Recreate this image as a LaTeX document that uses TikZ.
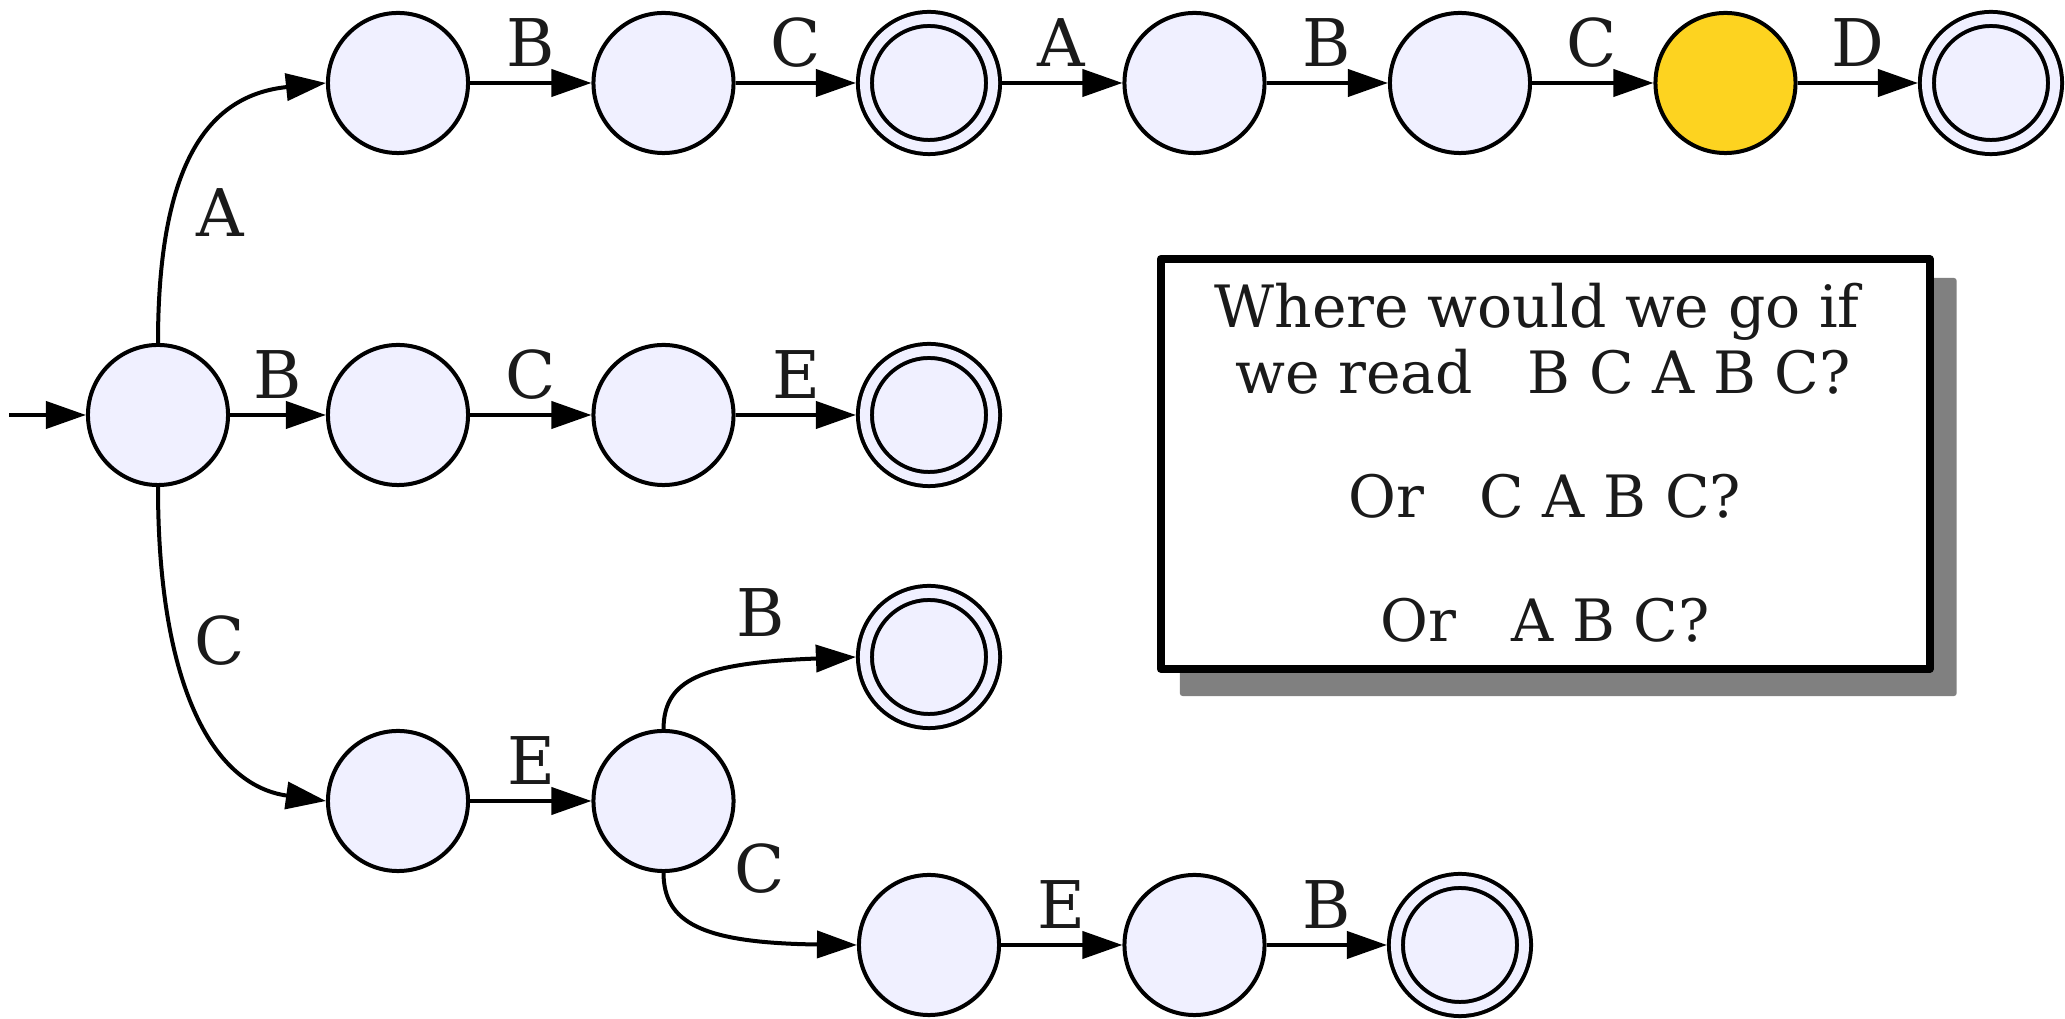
\documentclass[tikz,border=0pt]{standalone}
\usepackage{fontspec}
\setmainfont{DejaVu Serif}
\usetikzlibrary{arrows.meta,backgrounds,calc}
\definecolor{statefill}{RGB}{240,240,255}
\definecolor{hotfill}{RGB}{253,211,32}
\definecolor{shadowgray}{RGB}{128,128,128}
\definecolor{ink}{RGB}{26,26,26}
\begin{document}
\begin{tikzpicture}[x=0.01cm,y=-0.01cm,
  state/.style={circle, draw=black, fill=statefill, line width=0.04cm,
    minimum size=1.4cm, inner sep=0pt},
  accept/.style={state, minimum size=1.28cm, double=statefill,
    double distance=0.1cm, outer sep=0.09cm},
  hot/.style={state, fill=hotfill},
  edge/.style={draw=black, line width=0.04cm,
    -{Triangle[length=0.4cm,width=0.27cm]}},
  lbl/.style={anchor=base, text=ink, inner sep=0pt,
    font=\fontsize{18.7}{22}\selectfont},
  qbox/.style={draw=black, fill=white, line width=0.077cm, line join=round,
    minimum width=7.685cm, minimum height=4.1cm, inner sep=0pt, outer sep=0pt},
  qline/.style={anchor=base, text=ink, inner sep=0pt,
    font=\fontsize{16.6}{20}\selectfont},
]
\useasboundingbox (0,0) rectangle (2065,1019);

% states
\node[state]  (s0) at (158,415) {};
\node[state]  (a1) at (398,83) {};
\node[state]  (a2) at (663.5,83) {};
\node[accept] (a3) at (929,83) {};
\node[state]  (a4) at (1194.5,83) {};
\node[state]  (a5) at (1460,83) {};
\node[hot]    (a6) at (1725.5,83) {};
\node[accept] (a7) at (1991,83) {};
\node[state]  (b1) at (398,415) {};
\node[state]  (b2) at (663.5,415) {};
\node[accept] (b3) at (929,415) {};
\node[state]  (c1) at (398,801) {};
\node[state]  (c2) at (663.5,801) {};
\node[accept] (cb) at (929,657) {};
\node[state]  (d1) at (929,945) {};
\node[state]  (d2) at (1194.5,945) {};
\node[accept] (d3) at (1460,945) {};

% transitions
\coordinate (init) at (9,415);
\draw[edge] (init) -- (s0);
\draw[edge] (s0.north) .. controls (158,160) and (210,95) .. (a1.west);
\draw[edge] (a1) -- (a2);
\draw[edge] (a2) -- (a3);
\draw[edge] (a3) -- (a4);
\draw[edge] (a4) -- (a5);
\draw[edge] (a5) -- (a6);
\draw[edge] (a6) -- (a7);
\draw[edge] (s0) -- (b1);
\draw[edge] (b1) -- (b2);
\draw[edge] (b2) -- (b3);
\draw[edge] (s0.south) .. controls (158,680) and (210,785) .. (c1.west);
\draw[edge] (c1) -- (c2);
\draw[edge] (c2.north) .. controls (664,680) and (700,663) .. (cb.west);
\draw[edge] (c2.south) .. controls (664,922) and (700,943) .. (d1.west);
\draw[edge] (d1) -- (d2);
\draw[edge] (d2) -- (d3);

% transition labels
\node[lbl] (la1) at (220,237) {A};
\node[lbl] (la2) at (531,67) {B};
\node[lbl] (la3) at (796,67) {C};
\node[lbl] (la4) at (1061,67) {A};
\node[lbl] (la5) at (1327,67) {B};
\node[lbl] (la6) at (1592,67) {C};
\node[lbl] (la7) at (1858,67) {D};
\node[lbl] (lb1) at (278,399) {B};
\node[lbl] (lb2) at (531,399) {C};
\node[lbl] (lb3) at (796,399) {E};
\node[lbl] (lc1) at (220,665) {C};
\node[lbl] (lc2) at (531,785) {E};
\node[lbl] (lcb) at (761,637) {B};
\node[lbl] (lcd) at (760,893) {C};
\node[lbl] (ld2) at (1061,929) {E};
\node[lbl] (ld3) at (1327,929) {B};

% question box with its shadow
\node[qbox] (q) at (1545.25,464) {};
\begin{scope}[on background layer]
  \fill[shadowgray, rounded corners=0.03cm]
    ($(q.north west)+(19,19)$) rectangle ($(q.south east)+(27,27)$);
\end{scope}
\node[qline] (q1) at (1537,328) {Where would we go if};
\node[qline] (q2) at (1543,394) {we read\hspace{0.55cm}B C A B C?};
\node[qline] (q3) at (1545,518) {Or\hspace{0.55cm}C A B C?};
\node[qline] (q4) at (1545,642) {Or\hspace{0.55cm}A B C?};
\end{tikzpicture}
\end{document}
